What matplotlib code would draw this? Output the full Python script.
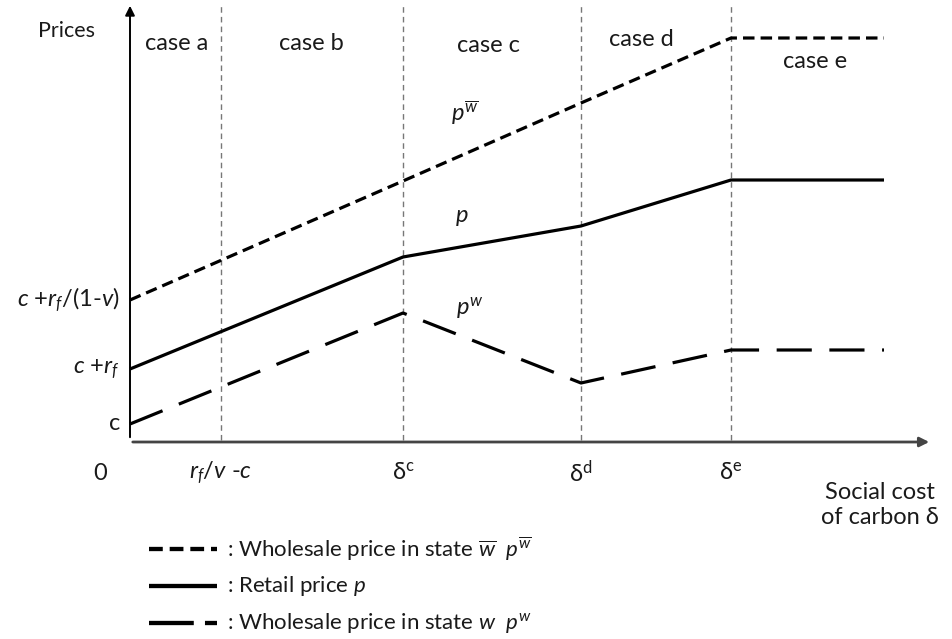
import matplotlib
matplotlib.use("Agg")
import matplotlib.pyplot as plt

plt.rcParams['font.family'] = ['Lato', 'DejaVu Sans']
plt.rcParams['mathtext.fontset'] = 'custom'
plt.rcParams['mathtext.rm'] = 'Lato'
plt.rcParams['mathtext.it'] = 'Lato:italic'
plt.rcParams['mathtext.bf'] = 'Lato:bold'

# ---- data (schematic units) ----
x_knots = [0, 273, 451, 601, 754]          # 0, delta_c, delta_d, delta_e, end
p_wbar = [140, 259, 337, 402, 402]         # wholesale price in state w-bar
p_retail = [71, 183, 214, 260, 260]        # retail price p
p_w = [16, 127, 57, 90, 90]                # wholesale price in state w
case_bounds = [91, 273, 451, 601]          # r_f/v - c, delta_c, delta_d, delta_e
case_labels = ["case a", "case b", "case c", "case d", "case e"]
case_label_x = [47, 181, 358, 511, 685]
case_label_y = [397, 397, 395, 401, 379]
y_ticks = [16, 71, 140]
y_tick_labels = ["c", r"$c\ {+}r_f$", r"$c\ {+}r_f/(1\text{-}v)$"]
x_tick_labels = [r"$r_f/v\ \text{-}c$", r"δ$^{\mathrm{c}}$", r"δ$^{\mathrm{d}}$", r"δ$^{\mathrm{e}}$"]

fig = plt.figure(figsize=(9.52, 6.39), dpi=100)
ax = fig.add_axes([0, 0, 1, 1])
ax.set_xlim(-130, 822)
ax.set_ylim(-199, 440)
ax.axis('off')

TXT = '#1a1a1a'
FS = 17
lw = 2.3
short_dash = (0, (3.6, 1.9))
long_dash = (0, (11, 5.5))

# axes arrows
ax.annotate("", xy=(0, 437), xytext=(0, 0),
            arrowprops=dict(arrowstyle="-|>", color="black", lw=1.4, mutation_scale=14))
ax.annotate("", xy=(802, -2), xytext=(0, -2),
            arrowprops=dict(arrowstyle="-|>", color="#444444", lw=2.0, mutation_scale=14))

# vertical case boundaries
for xb in case_bounds:
    ax.plot([xb, xb], [0, 435], color="#777777", lw=1.0, ls=(0, (4, 3)))

# price lines
ax.plot(x_knots, p_wbar, color="black", lw=lw, ls=short_dash, dash_capstyle='butt')
ax.plot(x_knots, p_retail, color="black", lw=lw, solid_capstyle='butt')
ax.plot(x_knots, p_w, color="black", lw=lw, ls=long_dash, dash_capstyle='butt')

# case labels
for lab, cx, cy in zip(case_labels, case_label_x, case_label_y):
    ax.text(cx, cy, lab, ha='center', va='center', fontsize=FS, color=TXT)

# line labels
ax.text(335, 327, r"$p^{\overline{w}}$", fontsize=FS, ha='center', va='center', color=TXT)
ax.text(332, 223, r"$p$", fontsize=FS, ha='center', va='center', color=TXT)
ax.text(340, 132, r"$p^{w}$", fontsize=FS, ha='center', va='center', color=TXT)

# y tick labels
for yv, lab in zip(y_ticks, y_tick_labels):
    ax.text(-10, yv, lab, ha='right', va='center', fontsize=FS, color=TXT)
ax.text(-63, 409, "Prices", ha='center', va='center', fontsize=15.5, color=TXT)
ax.text(-30, -33, "0", ha='center', va='center', fontsize=FS, color=TXT)

# x tick labels
for xv, lab in zip(case_bounds, x_tick_labels):
    ax.text(xv, -33, lab, ha='center', va='center', fontsize=FS, color=TXT)

ax.text(750, -65, "Social cost\nof carbon δ", ha='center', va='center', fontsize=FS,
        linespacing=1.25, color=TXT)

# legend (manual)
leg_lw = lw + 0.8
leg_y = [-109, -146, -183]
leg_styles = [(0, (3.2, 1.6)), '-', (0, (10.4, 2.6, 2.8, 6))]
leg_text = [r": Wholesale price in state $\overline{w}$  $p^{\overline{w}}$",
            r": Retail price $p$",
            r": Wholesale price in state $w$  $p^{w}$"]
for ly, st, tx in zip(leg_y, leg_styles, leg_text):
    ax.plot([19, 87], [ly, ly], color='black', lw=leg_lw, ls=st, dash_capstyle='butt', solid_capstyle='butt')
    ax.text(97, ly, tx, ha='left', va='center', fontsize=16, color=TXT)

fig.savefig("out.png", dpi=100)
